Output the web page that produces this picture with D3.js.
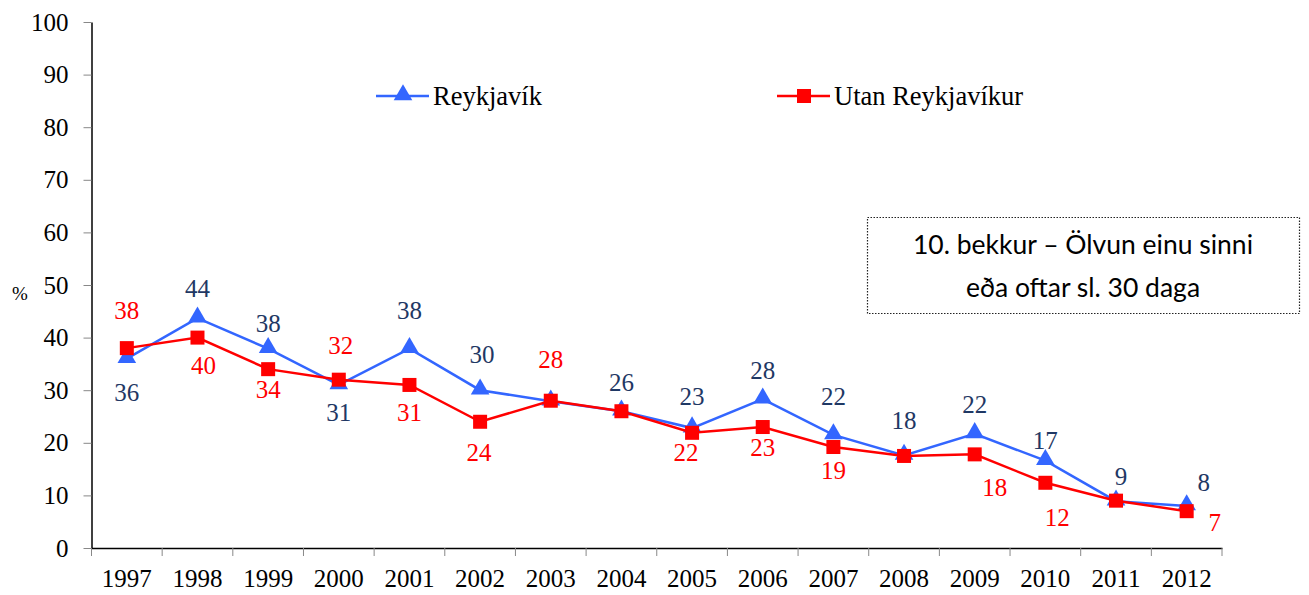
<!DOCTYPE html>
<html>
<head>
<meta charset="utf-8">
<script src="https://cdn.jsdelivr.net/npm/d3@7"></script>
<style>
  body { margin: 0; background: #fff; }
  svg text { font-family: "Liberation Serif", "Times New Roman", serif; }
</style>
</head>
<body>
<div id="chart"></div>
<script>
const years = ["1997", "1998", "1999", "2000", "2001", "2002", "2003", "2004",
    "2005", "2006", "2007", "2008", "2009", "2010", "2011", "2012"];
const reykjavik = [36, 43.7, 37.9, 31, 37.9, 30, 27.9, 26, 22.8, 28.3, 21.5, 17.6, 21.7, 16.6, 8.9, 8];
const reykjavikLabels = ["36", "44", "38", "31", "38", "30", null, "26", "23", "28", "22", "18", "22", "17", "9", "8"];
const utan = [38, 40, 34, 32, 31, 24, 28, 26, 21.9, 23, 19.2, 17.5, 17.8, 12.4, 9, 7];
const utanLabels = ["38", "40", "34", "32", "31", "24", "28", null, "22", "23", "19", null, "18", "12", null, "7"];
const yTicks = [0, 10, 20, 30, 40, 50, 60, 70, 80, 90, 100];

// label offsets from the point (dx, dy), picked by eye
const reykOffsets = [[0, 34], [0, -30], [0, -25], [0, 27], [0, -38], [2, -36], [0, 0], [0, -29],
    [0, -32], [0, -29], [0, -39], [0, -35], [0, -30], [0, -20], [5, -25], [17, -24]];
const utanOffsets = [[0, -38], [6, 28], [0, 20], [2, -34], [0, 27], [-1, 30], [0, -41], [0, 0],
    [-6, 19], [0, 20], [0, 23], [0, 0], [20, 33], [12, 34], [0, 0], [28, 11]];

const width = 1309, height = 595;
const margin = {top: 22, right: 87, bottom: 47, left: 91.5};

const svg = d3.select("#chart").append("svg")
    .attr("width", width)
    .attr("height", height);

const x = d3.scaleBand()
    .domain(years)
    .range([margin.left, width - margin.right]);

const y = d3.scaleLinear()
    .domain([0, 100])
    .range([height - margin.bottom, margin.top]);

const blue = "#3366ff", red = "#ff0000", navy = "#1f3864";

// y axis
const yAxis = svg.append("g")
    .attr("transform", `translate(${margin.left},0)`)
    .call(d3.axisLeft(y).tickValues(yTicks).tickSize(8).tickSizeOuter(0));
yAxis.select(".domain").attr("stroke", "#000").attr("stroke-width", 1.5);
yAxis.selectAll(".tick line").attr("stroke", "#888");
yAxis.selectAll(".tick text")
    .attr("x", -23)
    .attr("fill", "#000")
    .style("font-size", "25px")
    .style("font-family", "Liberation Serif");

// x axis
const xAxis = svg.append("g")
    .attr("transform", `translate(0,${y(0)})`)
    .call(d3.axisBottom(x).tickSize(0).tickSizeOuter(0));
xAxis.select(".domain").attr("stroke", "#000").attr("stroke-width", 1.5);
xAxis.selectAll(".tick text")
    .attr("y", 21)
    .attr("fill", "#000")
    .style("font-size", "25px")
    .style("font-family", "Liberation Serif");

// tick marks between categories
const bounds = years.map(d => x(d)).concat([x(years[years.length - 1]) + x.bandwidth()]);
svg.append("g")
    .selectAll("line")
    .data(bounds)
    .enter()
    .append("line")
    .attr("x1", d => d).attr("x2", d => d)
    .attr("y1", y(0)).attr("y2", y(0) + 8)
    .attr("stroke", "#888");

svg.append("text")
    .attr("x", 20)
    .attr("y", 300)
    .attr("text-anchor", "middle")
    .style("font-size", "19px")
    .text("%");

const cx = d => x(d) + x.bandwidth() / 2;
const line = d3.line()
    .x(d => cx(d.year))
    .y(d => y(d.value));

const reykData = years.map((yr, i) => ({year: yr, value: reykjavik[i], label: reykjavikLabels[i], off: reykOffsets[i]}));
const utanData = years.map((yr, i) => ({year: yr, value: utan[i], label: utanLabels[i], off: utanOffsets[i]}));

const triangle = d3.symbol().type(d3.symbolTriangle).size(150);

// Reykjavík series
svg.append("path")
    .datum(reykData)
    .attr("fill", "none")
    .attr("stroke", blue)
    .attr("stroke-width", 2.5)
    .attr("d", line);
svg.append("g")
    .selectAll("path")
    .data(reykData)
    .enter()
    .append("path")
    .attr("transform", d => `translate(${cx(d.year)},${y(d.value) - 1})`)
    .attr("d", triangle)
    .attr("fill", blue);

// Utan Reykjavíkur series
svg.append("path")
    .datum(utanData)
    .attr("fill", "none")
    .attr("stroke", red)
    .attr("stroke-width", 2.5)
    .attr("d", line);
svg.append("g")
    .selectAll("rect")
    .data(utanData)
    .enter()
    .append("rect")
    .attr("x", d => cx(d.year) - 7)
    .attr("y", d => y(d.value) - 7)
    .attr("width", 14)
    .attr("height", 14)
    .attr("fill", red);

// value labels
function drawLabels(data, color) {
    svg.append("g")
        .selectAll("text")
        .data(data.filter(d => d.label !== null))
        .enter()
        .append("text")
        .attr("x", d => cx(d.year) + d.off[0])
        .attr("y", d => y(d.value) + d.off[1])
        .attr("dy", "0.35em")
        .attr("text-anchor", "middle")
        .attr("fill", color)
        .style("font-size", "25px")
        .text(d => d.label);
}
drawLabels(reykData, navy);
drawLabels(utanData, red);

// legend
const legend = [
    {name: "Reykjavík", color: blue, x: 376, shape: "tri"},
    {name: "Utan Reykjavíkur", color: red, x: 777, shape: "sq"}
];
const lg = svg.append("g")
    .selectAll("g")
    .data(legend)
    .enter()
    .append("g")
    .attr("transform", d => `translate(${d.x},96)`);
lg.append("line")
    .attr("x1", 0).attr("x2", 53)
    .attr("stroke", d => d.color)
    .attr("stroke-width", 2.5);
lg.filter(d => d.shape === "tri").append("path")
    .attr("transform", "translate(27,-1)")
    .attr("d", triangle)
    .attr("fill", d => d.color);
lg.filter(d => d.shape === "sq").append("rect")
    .attr("x", 20).attr("y", -7)
    .attr("width", 14).attr("height", 14)
    .attr("fill", d => d.color);
lg.append("text")
    .attr("x", 57)
    .attr("dy", "0.33em")
    .style("font-size", "26.5px")
    .text(d => d.name);

// note box
svg.append("rect")
    .attr("x", 867.5).attr("y", 217.5)
    .attr("width", 432).attr("height", 96)
    .attr("fill", "none")
    .attr("stroke", "#222")
    .attr("stroke-width", 1.2)
    .attr("stroke-dasharray", "1.5,1.5");
svg.append("g")
    .selectAll("text")
    .data(["10. bekkur \u2013 Ölvun einu sinni", "eða oftar sl. 30 daga"])
    .enter()
    .append("text")
    .attr("x", 1083)
    .attr("y", (d, i) => 245 + i * 43)
    .attr("dy", "0.35em")
    .attr("text-anchor", "middle")
    .style("font-family", "Lato, 'Open Sans', sans-serif")
    .style("font-size", "26.5px")
    .text(d => d);
</script>
</body>
</html>
